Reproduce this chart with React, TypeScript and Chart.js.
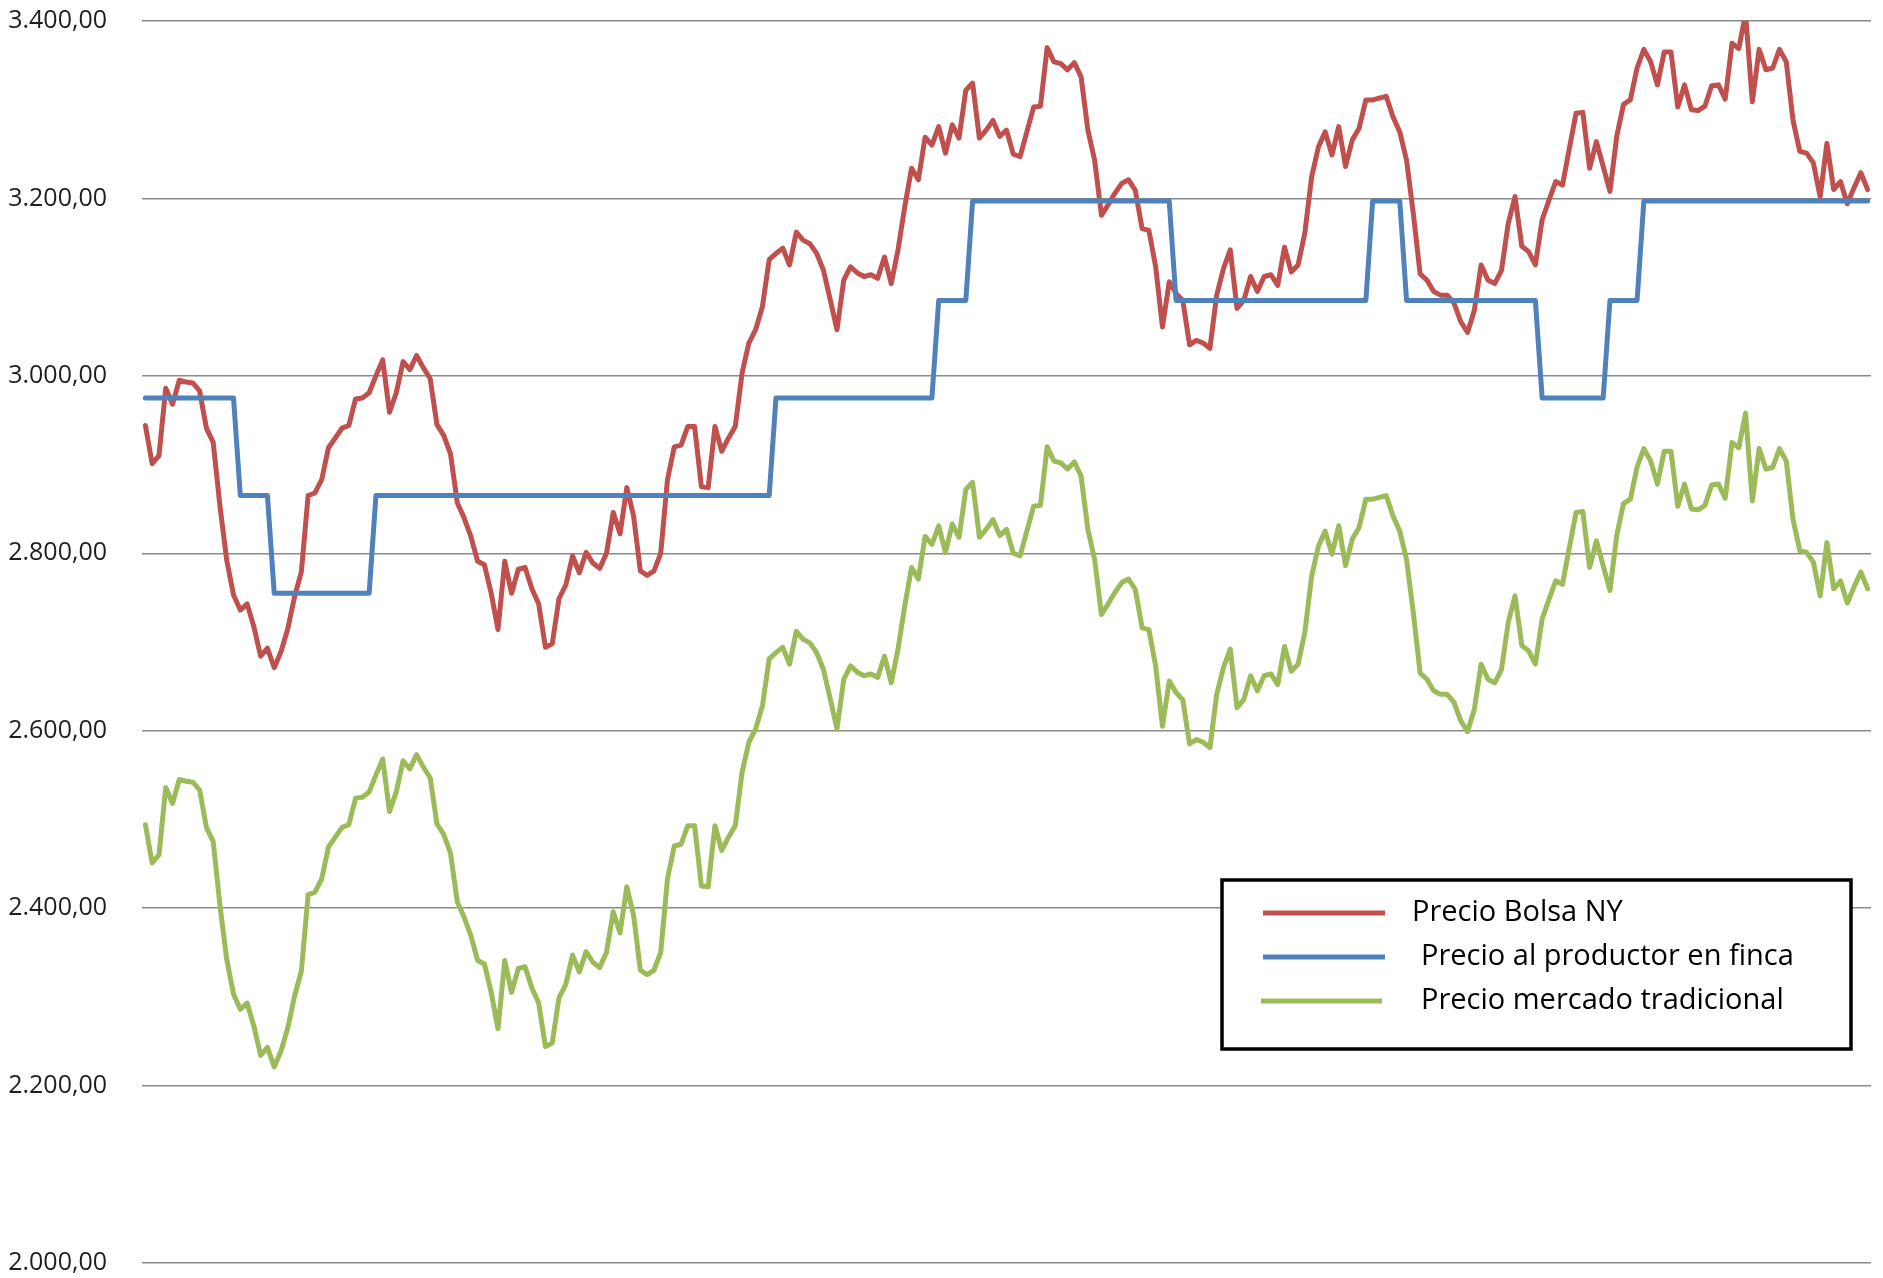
import React, { useEffect, useRef } from "react";
import { Chart, registerables } from "chart.js";

Chart.register(...registerables);

const seriesNames = ["Precio Bolsa NY", "Precio al productor en finca", "Precio mercado tradicional"];
const seriesColors = ["#C0504D", "#4F81BD", "#9BBB59"];

const yMin = 2000;
const yMax = 3400;
const yStep = 200;

const precioBolsaNY = [
  2944, 2901, 2910, 2986, 2968, 2995, 2993, 2992, 2983, 2941,
  2925, 2853, 2792, 2753, 2736, 2743, 2717, 2684, 2693, 2671,
  2689, 2715, 2751, 2779, 2865, 2868, 2883, 2919, 2930, 2941,
  2944, 2974, 2975, 2981, 3000, 3018, 2959, 2981, 3016, 3007,
  3023, 3009, 2997, 2945, 2933, 2912, 2857, 2840, 2819, 2791,
  2787, 2755, 2714, 2791, 2755, 2782, 2784, 2760, 2743, 2694,
  2698, 2749, 2764, 2797, 2778, 2801, 2789, 2783, 2800, 2846,
  2822, 2874, 2842, 2780, 2775, 2780, 2800, 2883, 2920, 2922,
  2943, 2943, 2875, 2874, 2943, 2915, 2930, 2943, 3003, 3037,
  3052, 3078, 3131, 3138, 3144, 3125, 3162, 3153, 3149, 3138,
  3119, 3086, 3052, 3108, 3123, 3116, 3112, 3114, 3110, 3134,
  3104, 3142, 3191, 3234, 3221, 3269, 3260, 3281, 3251, 3283,
  3268, 3322, 3330, 3268, 3277, 3288, 3270, 3277, 3250, 3247,
  3275, 3303, 3304, 3370, 3354, 3352, 3345, 3353, 3337, 3277,
  3243, 3181, 3193, 3206, 3217, 3221, 3209, 3166, 3164, 3123,
  3055, 3106, 3093, 3085, 3035, 3040, 3037, 3031, 3091, 3121,
  3142, 3076, 3085, 3112, 3095, 3112, 3114, 3102, 3145, 3117,
  3125, 3161, 3224, 3258, 3275, 3249, 3281, 3236, 3266, 3279,
  3311, 3311, 3313, 3315, 3292, 3275, 3243, 3183, 3115, 3108,
  3095, 3091, 3091, 3082, 3061, 3049, 3074, 3125, 3108, 3104,
  3119, 3172, 3202, 3146, 3140, 3125, 3176, 3198, 3219, 3215,
  3256, 3296, 3297, 3234, 3264, 3236, 3208, 3270, 3306, 3311,
  3347, 3368, 3354, 3328, 3365, 3365, 3303, 3328, 3300, 3299,
  3304, 3327, 3328, 3312, 3375, 3369, 3408, 3309, 3368, 3345,
  3347, 3368, 3354, 3288, 3253, 3251, 3240, 3202, 3262, 3210,
  3219, 3194, 3212, 3229, 3210,
];

const precioProductor = [
  2975, 2975, 2975, 2975, 2975, 2975, 2975, 2975, 2975, 2975,
  2975, 2975, 2975, 2975, 2865, 2865, 2865, 2865, 2865, 2755,
  2755, 2755, 2755, 2755, 2755, 2755, 2755, 2755, 2755, 2755,
  2755, 2755, 2755, 2755, 2865, 2865, 2865, 2865, 2865, 2865,
  2865, 2865, 2865, 2865, 2865, 2865, 2865, 2865, 2865, 2865,
  2865, 2865, 2865, 2865, 2865, 2865, 2865, 2865, 2865, 2865,
  2865, 2865, 2865, 2865, 2865, 2865, 2865, 2865, 2865, 2865,
  2865, 2865, 2865, 2865, 2865, 2865, 2865, 2865, 2865, 2865,
  2865, 2865, 2865, 2865, 2865, 2865, 2865, 2865, 2865, 2865,
  2865, 2865, 2865, 2975, 2975, 2975, 2975, 2975, 2975, 2975,
  2975, 2975, 2975, 2975, 2975, 2975, 2975, 2975, 2975, 2975,
  2975, 2975, 2975, 2975, 2975, 2975, 2975, 3085, 3085, 3085,
  3085, 3085, 3197, 3197, 3197, 3197, 3197, 3197, 3197, 3197,
  3197, 3197, 3197, 3197, 3197, 3197, 3197, 3197, 3197, 3197,
  3197, 3197, 3197, 3197, 3197, 3197, 3197, 3197, 3197, 3197,
  3197, 3197, 3085, 3085, 3085, 3085, 3085, 3085, 3085, 3085,
  3085, 3085, 3085, 3085, 3085, 3085, 3085, 3085, 3085, 3085,
  3085, 3085, 3085, 3085, 3085, 3085, 3085, 3085, 3085, 3085,
  3085, 3197, 3197, 3197, 3197, 3197, 3085, 3085, 3085, 3085,
  3085, 3085, 3085, 3085, 3085, 3085, 3085, 3085, 3085, 3085,
  3085, 3085, 3085, 3085, 3085, 3085, 2975, 2975, 2975, 2975,
  2975, 2975, 2975, 2975, 2975, 2975, 3085, 3085, 3085, 3085,
  3085, 3197, 3197, 3197, 3197, 3197, 3197, 3197, 3197, 3197,
  3197, 3197, 3197, 3197, 3197, 3197, 3197, 3197, 3197, 3197,
  3197, 3197, 3197, 3197, 3197, 3197, 3197, 3197, 3197, 3197,
  3197, 3197, 3197, 3197, 3197,
];

const precioMercado = [
  2494, 2451, 2460, 2536, 2518, 2545, 2543, 2542, 2533, 2491,
  2475, 2403, 2342, 2303, 2286, 2293, 2267, 2234, 2243, 2221,
  2239, 2265, 2301, 2329, 2415, 2418, 2433, 2469, 2480, 2491,
  2494, 2524, 2525, 2531, 2550, 2568, 2509, 2531, 2566, 2557,
  2573, 2559, 2547, 2495, 2483, 2462, 2407, 2390, 2369, 2341,
  2337, 2305, 2264, 2341, 2305, 2332, 2334, 2310, 2293, 2244,
  2248, 2299, 2314, 2347, 2328, 2351, 2339, 2333, 2350, 2396,
  2372, 2424, 2392, 2330, 2325, 2330, 2350, 2433, 2470, 2472,
  2493, 2493, 2425, 2424, 2493, 2465, 2480, 2493, 2553, 2587,
  2602, 2628, 2681, 2688, 2694, 2675, 2712, 2703, 2699, 2688,
  2669, 2636, 2602, 2658, 2673, 2666, 2662, 2664, 2660, 2684,
  2654, 2692, 2741, 2784, 2771, 2819, 2810, 2831, 2801, 2833,
  2818, 2872, 2880, 2818, 2827, 2838, 2820, 2827, 2800, 2797,
  2825, 2853, 2854, 2920, 2904, 2902, 2895, 2903, 2887, 2827,
  2793, 2731, 2743, 2756, 2767, 2771, 2759, 2716, 2714, 2673,
  2605, 2656, 2643, 2635, 2585, 2590, 2587, 2581, 2641, 2671,
  2692, 2626, 2635, 2662, 2645, 2662, 2664, 2652, 2695, 2667,
  2675, 2711, 2774, 2808, 2825, 2799, 2831, 2786, 2816, 2829,
  2861, 2861, 2863, 2865, 2842, 2825, 2793, 2733, 2665, 2658,
  2645, 2641, 2641, 2632, 2611, 2599, 2624, 2675, 2658, 2654,
  2669, 2722, 2752, 2696, 2690, 2675, 2726, 2748, 2769, 2765,
  2806, 2846, 2847, 2784, 2814, 2786, 2758, 2820, 2856, 2861,
  2897, 2918, 2904, 2878, 2915, 2915, 2853, 2878, 2850, 2849,
  2854, 2877, 2878, 2862, 2925, 2919, 2958, 2859, 2918, 2895,
  2897, 2918, 2904, 2838, 2803, 2801, 2790, 2752, 2812, 2760,
  2769, 2744, 2762, 2779, 2760,
];

const categories = precioBolsaNY.map((_, i) => String(i + 1));

function formatTick(v: number): string {
  const s = Math.round(v).toString();
  return s.replace(/\B(?=(\d{3})+(?!\d))/g, ".") + ",00";
}

const boxLegend = {
  id: "boxLegend",
  afterDatasetsDraw(chart: any) {
    const ctx = chart.ctx as CanvasRenderingContext2D;
    const bx = 1222, by = 880, bw = 629, bh = 169;
    ctx.save();
    ctx.fillStyle = "#ffffff";
    ctx.fillRect(bx, by, bw, bh);
    ctx.lineWidth = 3.5;
    ctx.strokeStyle = "#000000";
    ctx.strokeRect(bx, by, bw, bh);
    const rows = [
      { y: 913, x0: 1263, x1: 1385, tx: 1412 },
      { y: 957, x0: 1263, x1: 1385, tx: 1421 },
      { y: 1001, x0: 1261, x1: 1382, tx: 1421 },
    ];
    chart.data.datasets.forEach((ds: any, i: number) => {
      const r = rows[i];
      ctx.beginPath();
      ctx.strokeStyle = ds.borderColor;
      ctx.lineWidth = 5;
      ctx.moveTo(r.x0, r.y);
      ctx.lineTo(r.x1, r.y);
      ctx.stroke();
      ctx.fillStyle = "#000000";
      ctx.font = "29px 'Open Sans'";
      ctx.textBaseline = "middle";
      ctx.textAlign = "left";
      ctx.fillText(ds.label, r.tx, r.y);
    });
    ctx.restore();
  },
};

export default function App() {
  const canvasRef = useRef<HTMLCanvasElement | null>(null);

  useEffect(() => {
    if (!canvasRef.current) return;
    const chart = new Chart(canvasRef.current, {
      type: "line",
      data: {
        labels: categories,
        datasets: [
          { label: seriesNames[0], data: precioBolsaNY, borderColor: seriesColors[0], backgroundColor: seriesColors[0], order: 2 },
          { label: seriesNames[1], data: precioProductor, borderColor: seriesColors[1], backgroundColor: seriesColors[1], order: 1 },
          { label: seriesNames[2], data: precioMercado, borderColor: seriesColors[2], backgroundColor: seriesColors[2], order: 3 },
        ],
      },
      options: {
        responsive: false,
        animation: false,
        devicePixelRatio: 1,
        layout: { padding: { left: 0, right: 12, top: 21, bottom: 15 } },
        plugins: { legend: { display: false }, tooltip: { enabled: false } },
        elements: {
          point: { radius: 0, hoverRadius: 0 },
          line: { borderWidth: 5, tension: 0, borderJoinStyle: "round", borderCapStyle: "round" },
        },
        scales: {
          x: { display: false, offset: true },
          y: {
            min: yMin,
            max: yMax,
            afterFit: (s: any) => { s.width = 142; },
            border: { display: false },
            grid: { color: "#8a8a8a", lineWidth: 1.5, drawTicks: true, tickLength: 35, tickColor: "rgba(0,0,0,0)" },
            ticks: {
              stepSize: yStep,
              padding: 0,
              color: "#1e1e1e",
              font: { family: "'Open Sans'", size: 25 },
              callback: (v: any) => formatTick(Number(v)),
            },
          },
        },
      } as any,
      plugins: [boxLegend],
    });
    return () => chart.destroy();
  }, []);

  return (
    <div style={{ position: "absolute", left: 0, top: 0, width: 1883, height: 1278, background: "#fff" }}>
      <canvas ref={canvasRef} width={1883} height={1278} style={{ display: "block" }} />
    </div>
  );
}
